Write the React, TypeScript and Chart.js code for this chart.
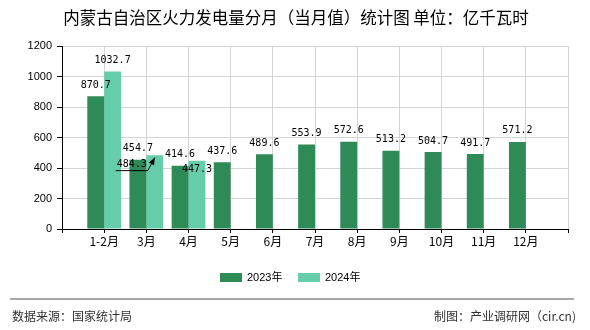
import React, { useEffect, useRef } from "react";
import { Chart, registerables } from "chart.js";

Chart.register(...registerables);

// ---------- data ----------
const months = ["1-2月", "3月", "4月", "5月", "6月", "7月", "8月", "9月", "10月", "11月", "12月"];
const values2023 = [870.7, 454.7, 414.6, 437.6, 489.6, 553.9, 572.6, 513.2, 504.7, 491.7, 571.2];
const values2024 = [1032.7, 484.3, 447.3];
const seriesNames = ["2023年", "2024年"];
const yMin = 0;
const yMax = 1200;
const yStep = 200;
const titleText = "内蒙古自治区火力发电量分月（当月值）统计图 单位：亿千瓦时";
const sourceText = "数据来源：国家统计局";
const creditText = "制图：产业调研网（cir.cn)";

// ---------- style ----------
const colors = ["#2E8B57", "#66CDAA"];
const gridColor = "#d4d4d4";
const labelFont = '10px "DejaVu Sans Mono"';
const cjk = '"Noto Sans CJK SC"';

// label position tweaks (style only): key = datasetIndex|month
const labelShift: Record<string, { dx: number; dy: number; leader?: boolean }> = {
  "1|3月": { dx: -23, dy: 20.5, leader: true },
  "1|4月": { dx: 0, dy: 20 },
};

const axisLabels = ["", ...months, ""];
const data2023 = [null, ...values2023, null];
const data2024: (number | null)[] = [null, ...values2024];
while (data2024.length < axisLabels.length) data2024.push(null);

const decorPlugin = {
  id: "decor",
  afterDatasetsDraw(chart: any) {
    const ctx = chart.ctx;
    ctx.save();
    ctx.font = labelFont;
    ctx.fillStyle = "#000";
    ctx.textAlign = "center";
    ctx.textBaseline = "alphabetic";
    chart.data.datasets.forEach((ds: any, di: number) => {
      const meta = chart.getDatasetMeta(di);
      meta.data.forEach((el: any, i: number) => {
        const v = ds.data[i];
        if (v === null || v === undefined) return;
        const key = di + "|" + axisLabels[i];
        const sh = labelShift[key] || { dx: 0, dy: 0 };
        const lx = el.x + sh.dx;
        const ly = el.y - 8.5 + sh.dy;
        ctx.fillText(v.toFixed(1), lx, ly);
        if (sh.leader) {
          ctx.strokeStyle = "#000";
          ctx.lineWidth = 1;
          const yl = ly + 3.5;
          const x1 = lx - 16;
          const x2 = lx + 16;
          const tx = el.x;
          const ty = el.y + 2.5;
          ctx.beginPath();
          ctx.moveTo(x1, yl);
          ctx.lineTo(x2, yl);
          ctx.lineTo(tx, ty);
          ctx.stroke();
          const ang = Math.atan2(ty - yl, tx - x2);
          const len = 7;
          const w = 3;
          ctx.beginPath();
          ctx.moveTo(tx, ty);
          ctx.lineTo(tx - len * Math.cos(ang) + w * Math.sin(ang), ty - len * Math.sin(ang) - w * Math.cos(ang));
          ctx.lineTo(tx - len * Math.cos(ang) - w * Math.sin(ang), ty - len * Math.sin(ang) + w * Math.cos(ang));
          ctx.closePath();
          ctx.fillStyle = "#000";
          ctx.fill();
        }
      });
    });
    ctx.restore();
  },
  afterDraw(chart: any) {
    const ctx = chart.ctx;
    ctx.save();
    // title
    ctx.fillStyle = "#000";
    ctx.font = "16.5px " + cjk;
    ctx.textAlign = "center";
    ctx.textBaseline = "middle";
    ctx.fillText(titleText, 296, 18);
    // legend
    const legendItems = [
      { x: 220, name: seriesNames[0], color: colors[0] },
      { x: 298, name: seriesNames[1], color: colors[1] },
    ];
    ctx.font = '11px "Liberation Sans", ' + cjk;
    ctx.textAlign = "left";
    legendItems.forEach((it) => {
      ctx.fillStyle = it.color;
      ctx.fillRect(it.x, 273, 22, 9);
      ctx.fillStyle = "#000";
      ctx.fillText(it.name, it.x + 27, 278);
    });
    // footer
    ctx.strokeStyle = "#8a8a8a";
    ctx.lineWidth = 1.5;
    ctx.beginPath();
    ctx.moveTo(10, 299);
    ctx.lineTo(574, 299);
    ctx.stroke();
    ctx.fillStyle = "#333";
    ctx.font = "12px " + cjk;
    ctx.textAlign = "left";
    ctx.fillText(sourceText, 12, 316);
    ctx.textAlign = "right";
    ctx.fillText(creditText, 576, 316);
    ctx.restore();
  },
};

export default function App() {
  const ref = useRef<HTMLCanvasElement | null>(null);
  useEffect(() => {
    if (!ref.current) return;
    const chart = new Chart(ref.current, {
      type: "bar",
      data: {
        labels: axisLabels,
        datasets: [
          { label: seriesNames[0], data: data2023, backgroundColor: colors[0] },
          { label: seriesNames[1], data: data2024, backgroundColor: colors[1] },
        ],
      },
      options: {
        responsive: false,
        devicePixelRatio: 1,
        animation: false,
        events: [],
        layout: { padding: { top: 46, right: 22, left: 0, bottom: 81 } },
        datasets: { bar: { categoryPercentage: 0.8, barPercentage: 1.0 } },
        plugins: {
          legend: { display: false },
          title: { display: false },
          tooltip: { enabled: false },
        },
        scales: {
          x: {
            type: "category",
            offset: false,
            afterFit: (s: any) => {
              s.height = 20;
            },
            grid: { color: gridColor, tickColor: "#000", tickLength: 4, offset: false },
            border: { color: "#000" },
            ticks: {
              autoSkip: false,
              maxRotation: 0,
              color: "#000",
              padding: 1,
              font: { family: '"Noto Sans CJK SC"', size: 12 },
            },
          },
          y: {
            min: yMin,
            max: yMax,
            afterFit: (s: any) => {
              s.width = 62;
            },
            grid: { color: gridColor, tickColor: "#000", tickLength: 5 },
            border: { color: "#000" },
            ticks: {
              stepSize: yStep,
              color: "#000",
              padding: 5,
              callback: (v: any) => String(v),
              font: { family: '"Liberation Sans"', size: 11 },
            },
          },
        },
      },
      plugins: [decorPlugin],
    } as any);
    return () => chart.destroy();
  }, []);
  return (
    <div style={{ position: "fixed", left: 0, top: 0, width: 590, height: 330, background: "#fff" }}>
      <canvas ref={ref} width={590} height={330} style={{ width: 590, height: 330, display: "block" }} />
    </div>
  );
}
